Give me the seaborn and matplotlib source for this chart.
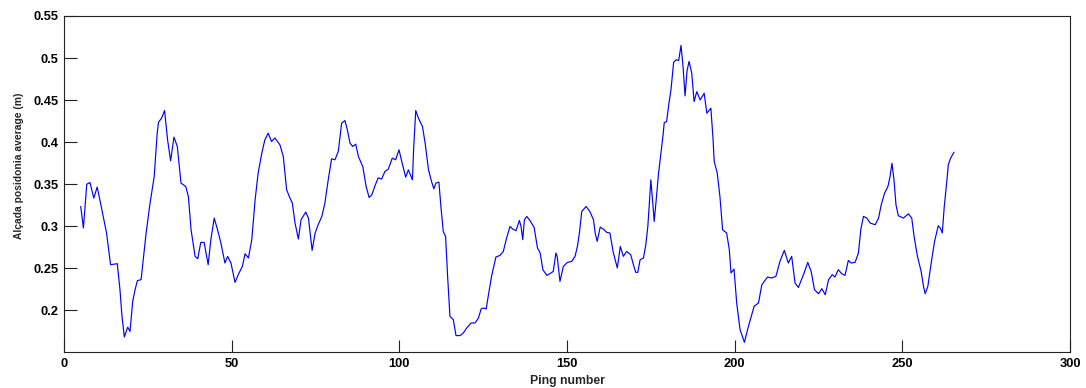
import matplotlib
matplotlib.use("Agg")
import matplotlib.pyplot as plt
import seaborn as sns
import pandas as pd

# Ping index and averaged posidonia height (m)
ping = [
    5.0, 5.8, 6.8, 7.75, 8.9, 9.9, 10.7, 12.7, 13.9, 15.9, 16.7, 17.3, 18.0, 19.0, 19.7,
    20.5, 21.2, 21.9, 23.0, 24.5, 25.6, 26.9, 27.8, 28.2, 29.1, 30.0, 30.9, 31.8, 32.8,
    33.8, 34.9, 36.3, 37.1, 37.9, 39.1, 39.9, 40.8, 41.8, 43.0, 43.8, 44.8, 45.8, 46.8,
    48.0, 48.8, 49.8, 51.0, 52.2, 53.2, 54.0, 55.0, 56.0, 57.0, 57.9, 59.0, 59.9, 60.9,
    61.9, 62.9, 64.4, 65.4, 66.4, 67.2, 68.1, 68.9, 69.9, 70.7, 72.1, 72.9, 73.4, 74.0,
    74.9, 75.8, 76.9, 77.8, 78.8, 79.8, 80.8, 81.8, 82.8, 83.8, 84.5, 85.3, 86.1, 87.0,
    87.8, 89.1, 90.1, 91.0, 91.8, 92.8, 93.7, 94.7, 95.7, 96.7, 97.9, 98.9, 99.9, 100.9,
    101.9, 102.7, 103.4, 103.9, 104.3, 104.9, 105.7, 106.9, 107.7, 108.7, 109.7, 110.3,
    110.9, 111.8, 112.4, 113.1, 113.8, 114.4, 115.1, 116.1, 116.9, 118.1, 119.1, 120.1,
    121.4, 122.6, 123.6, 124.4, 125.1, 125.9, 126.5, 127.5, 128.8, 130.0, 131.0, 132.0,
    133.0, 133.8, 134.8, 135.8, 136.3, 136.8, 137.3, 138.0, 139.0, 140.2, 141.2, 142.0,
    142.8, 144.0, 145.2, 145.9, 146.7, 147.1, 147.9, 148.9, 150.1, 151.4, 152.4, 153.1,
    153.7, 154.4, 155.7, 156.8, 157.9, 158.4, 159.0, 159.9, 160.8, 161.9, 162.8, 163.8,
    165.0, 165.9, 166.8, 167.8, 169.0, 169.8, 170.5, 171.1, 171.8, 172.8, 173.5, 174.1,
    174.5, 175.0, 175.5, 176.0, 176.6, 177.3, 178.0, 178.6, 179.0, 179.7, 180.4, 181.0,
    181.8, 182.6, 183.3, 184.0, 184.6, 185.2, 185.8, 186.4, 187.2, 187.9, 188.7, 189.7,
    190.9, 191.7, 192.9, 193.5, 193.9, 194.8, 195.6, 196.4, 197.6, 198.4, 198.9, 199.8,
    200.6, 201.6, 202.9, 204.1, 205.8, 207.1, 208.1, 209.8, 211.0, 212.3, 213.5, 214.8,
    216.0, 217.0, 218.0, 219.0, 220.5, 221.8, 222.8, 223.8, 225.0, 226.0, 227.0, 228.0,
    229.1, 229.9, 230.9, 231.9, 232.9, 233.9, 234.7, 235.9, 236.9, 237.6, 238.4, 239.4,
    240.4, 241.9, 242.9, 243.7, 244.7, 245.7, 246.3, 246.9, 247.5, 248.1, 248.8, 250.3,
    251.8, 252.8, 253.5, 254.5, 255.6, 256.3, 256.8, 257.6, 258.6, 259.6, 260.7, 261.3,
    261.9, 262.5, 263.3, 263.7, 264.4, 265.4,
]
height = [
    0.3235, 0.298, 0.350, 0.352, 0.3335, 0.3466, 0.3315, 0.292, 0.2543, 0.2555, 0.2246,
    0.193, 0.1684, 0.180, 0.175, 0.2107, 0.2246, 0.2353, 0.2365, 0.292, 0.3255, 0.359,
    0.4107, 0.4237, 0.4285, 0.4376, 0.4027, 0.3778, 0.406, 0.3948, 0.3513, 0.3473, 0.3354,
    0.2958, 0.2642, 0.2614, 0.2808, 0.2808, 0.2543, 0.284, 0.3097, 0.2958, 0.280, 0.2563,
    0.2642, 0.2563, 0.2333, 0.2444, 0.2522, 0.2673, 0.2622, 0.284, 0.3315, 0.3632, 0.387,
    0.4027, 0.4107, 0.4007, 0.4050, 0.3968, 0.3829, 0.3433, 0.3354, 0.3275, 0.3038, 0.2848,
    0.3077, 0.3169, 0.3097, 0.292, 0.2713, 0.292, 0.3018, 0.3117, 0.3275, 0.3552, 0.3802,
    0.379, 0.3889, 0.4226, 0.4257, 0.4146, 0.3988, 0.3948, 0.3976, 0.3829, 0.371, 0.3473,
    0.3342, 0.3374, 0.3487, 0.3576, 0.356, 0.3651, 0.3679, 0.381, 0.379, 0.3909, 0.3742,
    0.3584, 0.3671, 0.360, 0.3552, 0.3948, 0.4376, 0.4285, 0.4186, 0.3988, 0.3671, 0.352,
    0.3445, 0.3513, 0.3525, 0.3235, 0.2938, 0.2879, 0.2404, 0.1929, 0.189, 0.170, 0.170,
    0.1732, 0.1791, 0.185, 0.185, 0.191, 0.2017, 0.2028, 0.2017, 0.2166, 0.2404, 0.2634,
    0.2653, 0.270, 0.286, 0.2998, 0.2967, 0.2947, 0.3069, 0.2998, 0.284, 0.3077, 0.3117,
    0.3065, 0.2986, 0.2741, 0.2682, 0.2483, 0.2416, 0.2444, 0.2463, 0.2682, 0.2634, 0.2344,
    0.2522, 0.257, 0.2582, 0.2642, 0.276, 0.292, 0.3176, 0.3235, 0.3176, 0.3077, 0.292,
    0.282, 0.299, 0.2967, 0.2926, 0.292, 0.2689, 0.2504, 0.276, 0.2642, 0.270, 0.2662,
    0.2543, 0.2452, 0.2452, 0.2602, 0.2622, 0.278, 0.2998, 0.3235, 0.3552, 0.3315, 0.3057,
    0.3315, 0.3632, 0.387, 0.4067, 0.4233, 0.4245, 0.4463, 0.4621, 0.4950, 0.4980, 0.4970,
    0.5150, 0.4900, 0.4550, 0.4850, 0.4960, 0.4820, 0.4482, 0.4601, 0.4502, 0.4582, 0.4344,
    0.4404, 0.4067, 0.377, 0.3632, 0.3354, 0.2958, 0.292, 0.2721, 0.2444, 0.2491, 0.2088,
    0.1771, 0.162, 0.181, 0.2048, 0.2088, 0.2305, 0.2396, 0.2385, 0.2404, 0.2582, 0.2713,
    0.2563, 0.2642, 0.2325, 0.2272, 0.2424, 0.257, 0.2463, 0.2246, 0.2198, 0.2258, 0.2186,
    0.2365, 0.2424, 0.2396, 0.2483, 0.2436, 0.2416, 0.2594, 0.2563, 0.257, 0.2682, 0.2958,
    0.3117, 0.3097, 0.3038, 0.3018, 0.3097, 0.3255, 0.3394, 0.3473, 0.3584, 0.375, 0.3552,
    0.3255, 0.3125, 0.3097, 0.3148, 0.3097, 0.2879, 0.2642, 0.2463, 0.2285, 0.2198, 0.2285,
    0.2563, 0.282, 0.3006, 0.2978, 0.292, 0.3235, 0.3552, 0.373, 0.381, 0.3881,
]

x_ticks = [0, 50, 100, 150, 200, 250, 300]
y_ticks = [0.2, 0.25, 0.3, 0.35, 0.4, 0.45, 0.5, 0.55]
y_tick_labels = ["0.2", "0.25", "0.3", "0.35", "0.4", "0.45", "0.5", "0.55"]

sns.set_theme(style="white")
plt.rcParams["font.family"] = ["Liberation Sans", "DejaVu Sans"]
plt.rcParams["font.weight"] = "bold"

df = pd.DataFrame({"Ping number": ping, "height": height})

fig = plt.figure(figsize=(10.86, 3.88), dpi=100)
ax = fig.add_axes([0.0589, 0.0928, 0.9264, 0.866])

sns.lineplot(data=df, x="Ping number", y="height", sort=False, estimator=None,
             color="#0000ff", linewidth=0.85, ax=ax)

ax.set_xlim(0, 300)
ax.set_ylim(0.1505, 0.55)
ax.set_xticks(x_ticks)
ax.set_xticklabels([str(t) for t in x_ticks])
ax.set_yticks(y_ticks)
ax.set_yticklabels(y_tick_labels)

for side in ["left", "right", "top", "bottom"]:
    ax.spines[side].set_visible(True)
    ax.spines[side].set_color("#222222")
    ax.spines[side].set_linewidth(0.8)

ax.tick_params(axis="both", direction="in", length=9, width=0.8, color="#222222",
               labelsize=9.3, labelcolor="black", pad=4,
               bottom=True, left=True, top=False, right=False)
for lbl in ax.get_xticklabels() + ax.get_yticklabels():
    lbl.set_fontweight("bold")

ax.set_xlabel("Ping number", fontsize=8.8, fontweight="bold", labelpad=4)
ax.set_ylabel("Alçada posidonia average (m)", fontsize=7.4, fontweight="bold")
ax.yaxis.set_label_coords(-0.040, 0.553)
ax.grid(False)

fig.savefig("out.png", dpi=100, facecolor="white")
